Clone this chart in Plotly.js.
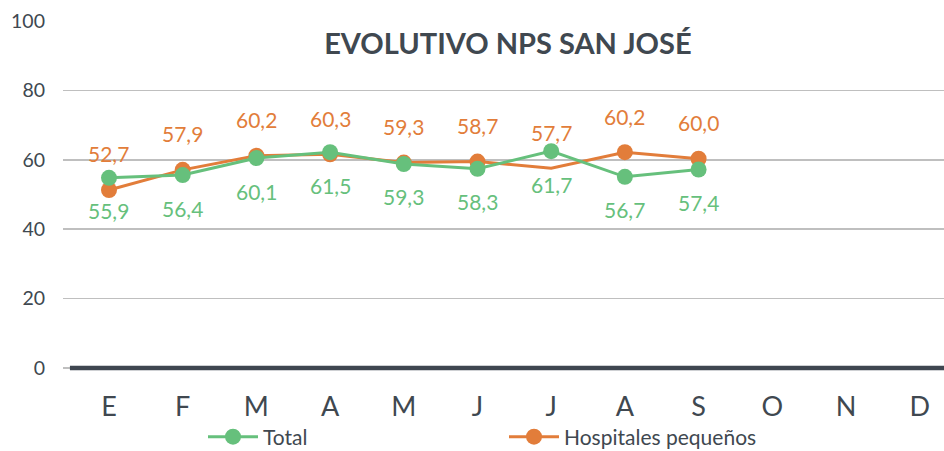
<!DOCTYPE html>
<html>
<head>
<meta charset="utf-8">
<script src="https://cdn.plot.ly/plotly-3.0.1.min.js"></script>
<style>html,body{margin:0;padding:0;background:#fff;}#chart{width:944px;height:451px;}</style>
</head>
<body>
<div id="chart"></div>
<script>
// ---- data ----
const months = ["E", "F", "M", "A", "M ", "J", "J ", "A ", "S", "O", "N", "D"];
const monthLabels = ["E", "F", "M", "A", "M", "J", "J", "A", "S", "O", "N", "D"];
const totalValues = [54.8, 55.6, 60.5, 62.2, 58.8, 57.4, 62.5, 55.1, 57.2];
const totalLabels = ["55,9", "56,4", "60,1", "61,5", "59,3", "58,3", "61,7", "56,7", "57,4"];
const hospValues = [51.3, 57.1, 61.2, 61.6, 59.2, 59.5, 57.6, 62.2, 60.3];
const hospLabels = ["52,7", "57,9", "60,2", "60,3", "59,3", "58,7", "57,7", "60,2", "60,0"];
const hospHiddenMarkerIndex = 6;
const yTicks = [0, 20, 40, 60, 80, 100];

// ---- style ----
const GREEN = "#66C07C";
const ORANGE = "#E27D3A";
const TEXT = "#404850";
const FONT = "Lato, 'Open Sans', sans-serif";

const hospMarkerColors = hospValues.map((v, i) => (i === hospHiddenMarkerIndex ? "rgba(0,0,0,0)" : ORANGE));

const traces = [
  {
    x: months.slice(0, hospValues.length),
    y: hospValues,
    name: "Hospitales pequeños",
    type: "scatter",
    mode: "lines+markers",
    line: {color: ORANGE, width: 3},
    marker: {color: hospMarkerColors, size: 16, opacity: 1},
    legendrank: 2,
    hoverinfo: "skip"
  },
  {
    x: months.slice(0, totalValues.length),
    y: totalValues,
    name: "Total",
    type: "scatter",
    mode: "lines+markers",
    line: {color: GREEN, width: 3},
    marker: {color: GREEN, size: 16, opacity: 1},
    legendrank: 1,
    hoverinfo: "skip"
  },
  {
    x: months,
    y: months.map(() => null),
    type: "scatter",
    mode: "lines",
    showlegend: false,
    hoverinfo: "skip"
  }
];

const annotations = [];
hospValues.forEach((v, i) => {
  annotations.push({
    x: months[i], y: v, text: hospLabels[i], showarrow: false,
    yshift: 36, font: {family: FONT, size: 21, color: ORANGE}
  });
});
totalValues.forEach((v, i) => {
  annotations.push({
    x: months[i], y: v, text: totalLabels[i], showarrow: false,
    yshift: -33, font: {family: FONT, size: 21, color: GREEN}
  });
});

const layout = {
  width: 944,
  height: 451,
  margin: {l: 63, r: 0, t: 21, b: 79, autoexpand: false},
  paper_bgcolor: "#fff",
  plot_bgcolor: "#fff",
  font: {family: FONT, color: TEXT},
  title: {
    text: "<b>EVOLUTIVO NPS SAN JOSÉ</b>",
    font: {family: FONT, size: 29, color: TEXT},
    x: 0.505, xref: "paper", xanchor: "center",
    y: 1 - 44 / 451, yref: "container", yanchor: "middle"
  },
  xaxis: {
    type: "category",
    categoryorder: "array",
    categoryarray: months,
    tickvals: months,
    ticktext: monthLabels,
    range: [-0.624, 11.33],
    showgrid: false,
    zeroline: false,
    showline: false,
    ticks: "",
    ticklabelstandoff: 16,
    tickfont: {family: FONT, size: 27, color: TEXT},
    automargin: false,
    fixedrange: true
  },
  yaxis: {
    range: [-1.15, 100],
    tickvals: yTicks,
    ticktext: yTicks.map(String),
    showgrid: true,
    gridcolor: "#BFBFBF",
    gridwidth: 1.5,
    zeroline: false,
    showline: false,
    ticks: "",
    ticklabelstandoff: 17,
    tickfont: {family: FONT, size: 19.5, color: TEXT},
    automargin: false,
    fixedrange: true
  },
  shapes: [
    {
      type: "line", xref: "x", yref: "y",
      x0: -0.53, x1: 11.33, y0: 0, y1: 0,
      line: {color: "#3F4650", width: 4.5},
      layer: "above"
    }
  ],
  annotations: annotations,
  showlegend: true,
  legend: {
    orientation: "h",
    x: (203 - 63) / 881, xanchor: "left",
    y: (372 - 437) / 351, yanchor: "middle",
    itemwidth: 50,
    entrywidth: 236, entrywidthmode: "pixels",
    tracegroupgap: 0,
    font: {family: FONT, size: 21, color: TEXT},
    bgcolor: "rgba(0,0,0,0)"
  }
};

Plotly.newPlot("chart", traces, layout, {displayModeBar: false, staticPlot: true});
</script>
</body>
</html>
